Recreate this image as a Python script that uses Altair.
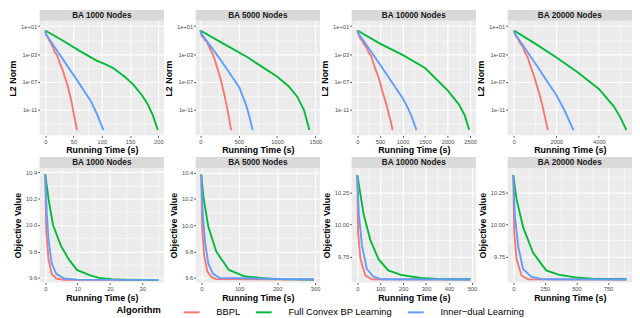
import json
import altair as alt
import pandas as pd

ALGORITHMS = ["BBPL", "Full Convex BP Learning", "Inner\u2212dual Learning"]
COLORS = ["#F8766D", "#00BA38", "#619CFF"]
PANEL_TITLES = ["BA 1000 Nodes", "BA 5000 Nodes", "BA 10000 Nodes", "BA 20000 Nodes"]

# ---------------- Top row: L2 norm vs running time (s) ----------------
l2_1000_bbpl_t = [0, 2, 4, 6, 8, 10, 12, 14, 17, 20, 23, 26, 30, 35, 40, 43, 47, 50, 53, 56]
l2_1000_bbpl_v = [2.5, 0.5, 0.25, 0.16, 0.063, 0.05, 0.016, 0.01, 1.6e-3, 1.0e-3, 2.5e-4, 4.0e-5,
                  7.9e-6, 4.0e-7, 2.5e-8, 2.0e-9, 1.0e-10, 4.0e-12, 2.5e-13, 1.26e-14]
l2_1000_full_t = [0, 30, 60, 90, 105, 120, 140, 155, 170, 180, 190, 199]
l2_1000_full_v = [2.5, 0.1, 3.2e-3, 1.26e-4, 4.0e-5, 1.0e-5, 6.3e-7, 5.0e-8, 1.6e-9, 1.0e-10, 2.0e-12, 1.26e-14]
l2_1000_inner_t = [0, 1, 20, 40, 60, 81, 92, 103]
l2_1000_inner_v = [2.5, 0.79, 4.0e-3, 1.6e-5, 6.3e-8, 1.6e-10, 2.0e-12, 1.26e-14]

l2_5000_bbpl_t = [0, 20, 40, 60, 80, 100, 130, 160, 185, 210, 240, 272, 300, 336, 370, 401]
l2_5000_bbpl_v = [2.5, 0.32, 0.25, 0.1, 0.079, 0.025, 5.0e-3, 1.0e-3, 2.0e-4, 2.5e-5, 2.0e-6,
                  1.26e-7, 6.3e-9, 1.0e-10, 1.26e-12, 1.26e-14]
l2_5000_full_t = [0, 300, 616, 800, 1000, 1150, 1263, 1350, 1422]
l2_5000_full_v = [2.5, 0.032, 3.5e-4, 1.6e-5, 6.3e-7, 2.5e-8, 7.9e-10, 1.0e-11, 1.26e-14]
l2_5000_inner_t = [0, 10, 250, 509, 600, 640, 681]
l2_5000_inner_v = [2.5, 1.0, 2.5e-4, 1.6e-8, 4.0e-11, 1.0e-12, 1.26e-14]

l2_10000_bbpl_t = [0, 50, 100, 150, 200, 250, 300, 350, 400, 450, 500, 550, 600, 650, 700, 740, 780]
l2_10000_bbpl_v = [2.5, 0.2, 0.1, 0.025, 0.01, 1.6e-3, 6.3e-4, 6.3e-5, 6.3e-6, 1.0e-6, 1.0e-7,
                   5.0e-9, 5.0e-10, 4.0e-11, 2.0e-12, 2.0e-13, 1.26e-14]
l2_10000_full_t = [0, 500, 1000, 1500, 2000, 2250, 2380, 2480]
l2_10000_full_v = [2.5, 0.032, 7.9e-4, 1.0e-5, 6.3e-9, 6.3e-11, 1.6e-12, 1.26e-14]
l2_10000_inner_t = [0, 20, 500, 1000, 1100, 1200, 1310]
l2_10000_inner_v = [2.5, 1.0, 3.2e-5, 5.0e-10, 3.2e-11, 1.26e-12, 1.26e-14]

l2_20000_bbpl_t = [0, 100, 200, 300, 400, 500, 650, 800, 950, 1100, 1250, 1350, 1450, 1600]
l2_20000_bbpl_v = [2.5, 0.32, 0.16, 0.032, 0.016, 2.5e-3, 3.2e-4, 1.26e-5, 6.3e-7, 2.0e-8,
                   5.0e-10, 3.2e-11, 1.26e-12, 1.26e-14]
l2_20000_full_t = [0, 1000, 2000, 3000, 4000, 4700, 5000, 5300]
l2_20000_full_v = [2.5, 0.032, 3.2e-4, 2.5e-6, 1.0e-8, 3.2e-11, 1.0e-12, 1.26e-14]
l2_20000_inner_t = [0, 30, 1000, 2000, 2400, 2800]
l2_20000_inner_v = [2.5, 1.0, 5.0e-5, 1.26e-9, 6.3e-12, 1.26e-14]

# ---------------- Bottom row: objective value vs running time (s) ----------------
obj_1000_bbpl_t = [0, 0.3, 1, 2, 3.4, 5.9, 35]
obj_1000_bbpl_v = [10.383, 9.96, 9.74, 9.63, 9.595, 9.585, 9.585]
obj_1000_full_t = [0, 1, 2.4, 4.9, 7.3, 9.8, 13.7, 16.6, 20.5, 25, 35]
obj_1000_full_v = [10.383, 10.2, 10.0, 9.84, 9.74, 9.66, 9.62, 9.60, 9.59, 9.587, 9.585]
obj_1000_inner_t = [0, 0.5, 1, 2, 3.4, 5.9, 10, 35]
obj_1000_inner_v = [10.383, 10.08, 9.89, 9.71, 9.63, 9.595, 9.587, 9.585]

obj_5000_bbpl_t = [0, 2.5, 7.5, 16, 27, 39.5, 297]
obj_5000_bbpl_v = [10.385, 9.97, 9.77, 9.65, 9.605, 9.59, 9.588]
obj_5000_full_t = [0, 6, 18.5, 39.5, 73, 115, 157, 199, 297]
obj_5000_full_v = [10.385, 10.21, 9.99, 9.80, 9.66, 9.61, 9.60, 9.59, 9.588]
obj_5000_inner_t = [0, 4, 10, 18.5, 31, 48, 297]
obj_5000_inner_v = [10.385, 10.09, 9.87, 9.71, 9.63, 9.60, 9.588]

obj_10000_bbpl_t = [0, 4, 14, 35, 64, 493]
obj_10000_bbpl_v = [10.39, 9.93, 9.73, 9.60, 9.57, 9.568]
obj_10000_full_t = [0, 10, 28, 57, 92, 135, 191, 276, 347, 493]
obj_10000_full_v = [10.39, 10.28, 10.08, 9.88, 9.73, 9.64, 9.605, 9.58, 9.572, 9.57]
obj_10000_inner_t = [0, 7, 21, 42, 71, 106, 493]
obj_10000_inner_v = [10.39, 10.08, 9.83, 9.65, 9.59, 9.57, 9.568]

obj_20000_bbpl_t = [0, 8, 26, 65, 117, 895]
obj_20000_bbpl_v = [10.39, 9.93, 9.73, 9.60, 9.57, 9.568]
obj_20000_full_t = [0, 26, 78, 156, 260, 364, 494, 623, 895]
obj_20000_full_v = [10.39, 10.2, 9.98, 9.78, 9.64, 9.605, 9.585, 9.575, 9.57]
obj_20000_inner_t = [0, 13, 39, 78, 143, 234, 895]
obj_20000_inner_v = [10.39, 10.07, 9.83, 9.65, 9.59, 9.57, 9.568]

# ---------------- Axis ticks / limits ----------------
l2_ticks = [10, 1e-3, 1e-7, 1e-11]
l2_tick_labels = ["1e+01", "1e-03", "1e-07", "1e-11"]
l2_minor = [1e-1, 1e-5, 1e-9, 1e-13]
l2_limits = [2.2e-15, 60]

top_x_ticks = [[0, 50, 100, 150, 200], [0, 500, 1000, 1500],
               [0, 500, 1000, 1500, 2000, 2500], [0, 2000, 4000]]
top_x_minor = [[25, 75, 125, 175], [250, 750, 1250],
               [250, 750, 1250, 1750, 2250], [1000, 3000, 5000]]
top_x_limits = [[-10, 210], [-62, 1560], [-130, 2630], [-300, 5560]]

bot_x_ticks = [[0, 10, 20, 30], [0, 100, 200, 300],
               [0, 100, 200, 300, 400, 500], [0, 250, 500, 750]]
bot_x_minor = [[5, 15, 25, 35], [50, 150, 250],
               [50, 150, 250, 350, 450], [125, 375, 625, 875]]
bot_x_limits = [[-1.75, 36.75], [-14.9, 312.9], [-24.6, 517.6], [-44.7, 939.7]]
bot_y_ticks = [[9.6, 9.8, 10.0, 10.2, 10.4], [9.6, 9.8, 10.0, 10.2, 10.4],
               [9.75, 10.0, 10.25], [9.75, 10.0, 10.25]]
bot_y_tick_labels = [["9.6", "9.8", "10.0", "10.2", "10.4"], ["9.6", "9.8", "10.0", "10.2", "10.4"],
                     ["9.75", "10.00", "10.25"], ["9.75", "10.00", "10.25"]]
bot_y_minor = [[9.7, 9.9, 10.1, 10.3], [9.7, 9.9, 10.1, 10.3],
               [9.625, 9.875, 10.125, 10.375], [9.625, 9.875, 10.125, 10.375]]
bot_y_limits = [[9.565, 10.432], [9.565, 10.435], [9.545, 10.445], [9.545, 10.445]]

TOP_SERIES = [
    [(l2_1000_bbpl_t, l2_1000_bbpl_v), (l2_1000_full_t, l2_1000_full_v), (l2_1000_inner_t, l2_1000_inner_v)],
    [(l2_5000_bbpl_t, l2_5000_bbpl_v), (l2_5000_full_t, l2_5000_full_v), (l2_5000_inner_t, l2_5000_inner_v)],
    [(l2_10000_bbpl_t, l2_10000_bbpl_v), (l2_10000_full_t, l2_10000_full_v), (l2_10000_inner_t, l2_10000_inner_v)],
    [(l2_20000_bbpl_t, l2_20000_bbpl_v), (l2_20000_full_t, l2_20000_full_v), (l2_20000_inner_t, l2_20000_inner_v)],
]
BOT_SERIES = [
    [(obj_1000_bbpl_t, obj_1000_bbpl_v), (obj_1000_full_t, obj_1000_full_v), (obj_1000_inner_t, obj_1000_inner_v)],
    [(obj_5000_bbpl_t, obj_5000_bbpl_v), (obj_5000_full_t, obj_5000_full_v), (obj_5000_inner_t, obj_5000_inner_v)],
    [(obj_10000_bbpl_t, obj_10000_bbpl_v), (obj_10000_full_t, obj_10000_full_v), (obj_10000_inner_t, obj_10000_inner_v)],
    [(obj_20000_bbpl_t, obj_20000_bbpl_v), (obj_20000_full_t, obj_20000_full_v), (obj_20000_inner_t, obj_20000_inner_v)],
]

FONT = "Liberation Sans"
W = 126
H = 116
STRIP_H = 11


def table(series):
    rows = []
    for k, (ts, vs) in enumerate(series):
        for t, v in zip(ts, vs):
            rows.append({"Running Time (s)": t, "value": v, "Algorithm": ALGORITHMS[k], "k": k})
    return pd.DataFrame(rows)


def make_axis(major, labels, minor, title):
    m = json.dumps(major)
    lab = json.dumps(labels)
    test_minor = f"indexof({m}, datum.value) < 0"
    return alt.Axis(
        values=major + minor,
        labelExpr=f"indexof({m}, datum.value) < 0 ? '' : {lab}[indexof({m}, datum.value)]",
        gridWidth={"condition": {"test": test_minor, "value": 0.5}, "value": 1.1},
        tickOpacity={"condition": {"test": test_minor, "value": 0}, "value": 1},
        title=title,
        grid=True,
        domain=False,
        labelOverlap=False,
        labelFlush=False,
    )


def panel(series, title, xticks, xminor, xlim, yticks, ylabels, yminor, ylim, ylog, ytitle):
    df = table(series)
    xlabels = [str(v) for v in xticks]
    lines = alt.Chart(df).mark_line(strokeWidth=1.9, clip=True).encode(
        x=alt.X("Running Time (s):Q",
                scale=alt.Scale(domain=xlim, nice=False, zero=False),
                axis=make_axis(xticks, xlabels, xminor, "Running Time (s)")),
        y=alt.Y("value:Q",
                scale=alt.Scale(type="log" if ylog else "linear", domain=ylim, nice=False, zero=False),
                axis=make_axis(yticks, ylabels, yminor, ytitle)),
        color=alt.Color("Algorithm:N",
                        scale=alt.Scale(domain=ALGORITHMS, range=COLORS),
                        legend=alt.Legend(orient="none", direction="horizontal",
                                          legendX=78, legendY=286,
                                          titleOrient="left", titleBaseline="middle",
                                          titleAnchor="middle",
                                          symbolType="stroke",
                                          symbolStrokeWidth=2, symbolSize=256,
                                          labelOffset=16, columnPadding=11,
                                          titlePadding=22)),
        order=alt.Order("Running Time (s):Q"),
        detail="k:N",
    )
    sdf = pd.DataFrame({"strip": [title]})
    strip_bg = alt.Chart(sdf).mark_rect(color="#D9D9D9").encode(
        x=alt.value(0), x2=alt.value(W), y=alt.value(-STRIP_H), y2=alt.value(0))
    strip_tx = alt.Chart(sdf).mark_text(font=FONT, fontSize=8.3, fontWeight="bold",
                                        color="#1A1A1A", baseline="middle", align="center").encode(
        x=alt.value(W / 2), y=alt.value(-STRIP_H / 2 + 0.3), text="strip:N")
    return alt.layer(strip_bg, lines, strip_tx).properties(width=W, height=H)


top_panels = [
    panel(TOP_SERIES[i], PANEL_TITLES[i], top_x_ticks[i], top_x_minor[i], top_x_limits[i],
          l2_ticks, l2_tick_labels, l2_minor, l2_limits, True, "L2 Norm")
    for i in range(4)
]
bot_panels = [
    panel(BOT_SERIES[i], PANEL_TITLES[i], bot_x_ticks[i], bot_x_minor[i], bot_x_limits[i],
          bot_y_ticks[i], bot_y_tick_labels[i], bot_y_minor[i], bot_y_limits[i], False, "Objective Value")
    for i in range(4)
]

chart = alt.ConcatChart(
    concat=top_panels + bot_panels, columns=4,
    spacing={"row": 33, "column": 32}, bounds="flush",
).properties(
    padding={"left": 0, "top": 0, "right": 0, "bottom": 0}
).configure_view(
    fill="#EBEBEB", stroke=None
).configure_axis(
    gridColor="#FFFFFF",
    tickColor="#333333",
    tickSize=2,
    tickWidth=0.8,
    labelFont=FONT,
    labelFontSize=5.8,
    labelColor="#4D4D4D",
    labelPadding=1,
    titleFont=FONT,
    titleFontSize=9,
    titleFontWeight="bold",
    titleColor="#000000",
    titlePadding=2,
).configure_axisY(
    titlePadding=3,
).configure_legend(
    titleFont=FONT,
    titleFontSize=9.5,
    titleFontWeight="bold",
    titleColor="#000000",
    labelFont=FONT,
    labelFontSize=9.5,
    labelColor="#000000",
)

chart.save("out.html", embed_options={"renderer": "svg", "actions": False})
